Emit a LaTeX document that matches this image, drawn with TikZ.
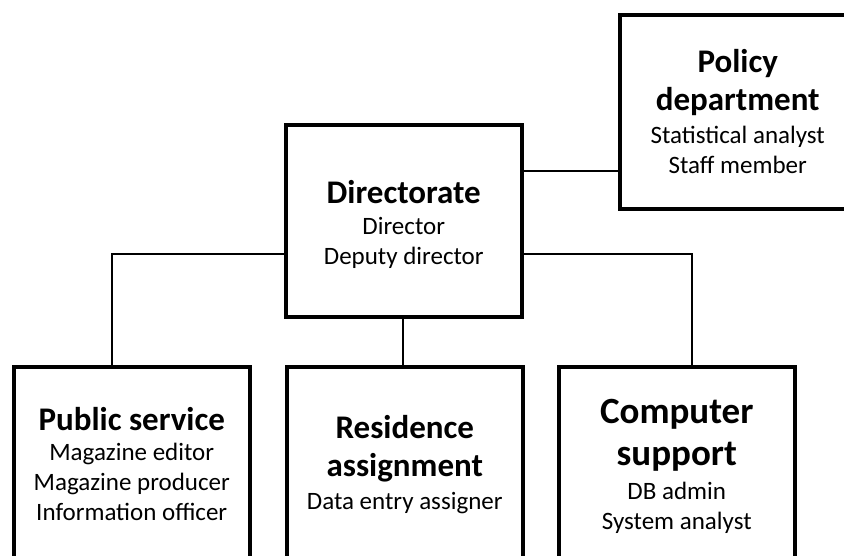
\documentclass[tikz,border=0pt]{standalone}
\usepackage{fontspec}
\setmainfont{Carlito}
% line styles inside the unit boxes
\newcommand\unitfont{\fontsize{25}{30}\selectfont\lineskiplimit-100pt\relax}
\newcommand\unittitle[1]{{\fontsize{33}{38}\selectfont\bfseries #1}}
\newcommand\unitbig[1]{{\fontsize{37}{42}\selectfont\bfseries #1}}
\begin{document}
\begin{tikzpicture}[x=1pt,y=-1pt,
  unit/.style={draw=black,line width=3.5pt,fill=white,minimum width=236pt,
    align=center,inner sep=0pt,anchor=north west,font=\unitfont},
  link/.style={draw=black,line width=1.6pt},
]
\clip (0,0) rectangle (844,555);
\fill[white] (0,0) rectangle (844,555);

% organisational units (the lower row runs past the bottom edge)
\node[unit,minimum height=192pt] (dir) at (284,123)
  {\unittitle{\rule{0pt}{31pt}Directorate}\\[1pt]
   Director\\
   Deputy director};
\node[unit,minimum height=194pt] (pol) at (618,13)
  {\unittitle{Policy}\\[8pt]
   \unittitle{department}\\[3pt]
   Statistical analyst\\
   Staff member};
\node[unit,minimum height=194pt] (pub) at (12,365)
  {\unittitle{Public service}\\
   Magazine editor\\
   Magazine producer\\
   Information officer};
\node[unit,minimum height=196pt] (res) at (285,365)
  {\unittitle{Residence}\\[8pt]
   \unittitle{assignment}\\[3pt]
   Data entry assigner};
\node[unit,minimum height=200pt] (cmp) at (557,365)
  {\unitbig{Computer}\\[12pt]
   \unitbig{support}\\[4pt]
   DB admin\\
   System analyst};

% reporting lines
\draw[link] (dir.east |- 0,171) -- (pol.west |- 0,171);
\draw[link] (dir.west |- 0,254) -| (112,0 |- pub.north);
\draw[link] (dir.east |- 0,254) -| (692,0 |- cmp.north);
\draw[link] (dir.south -| 403,0) -- (res.north -| 403,0);
\end{tikzpicture}
\end{document}
